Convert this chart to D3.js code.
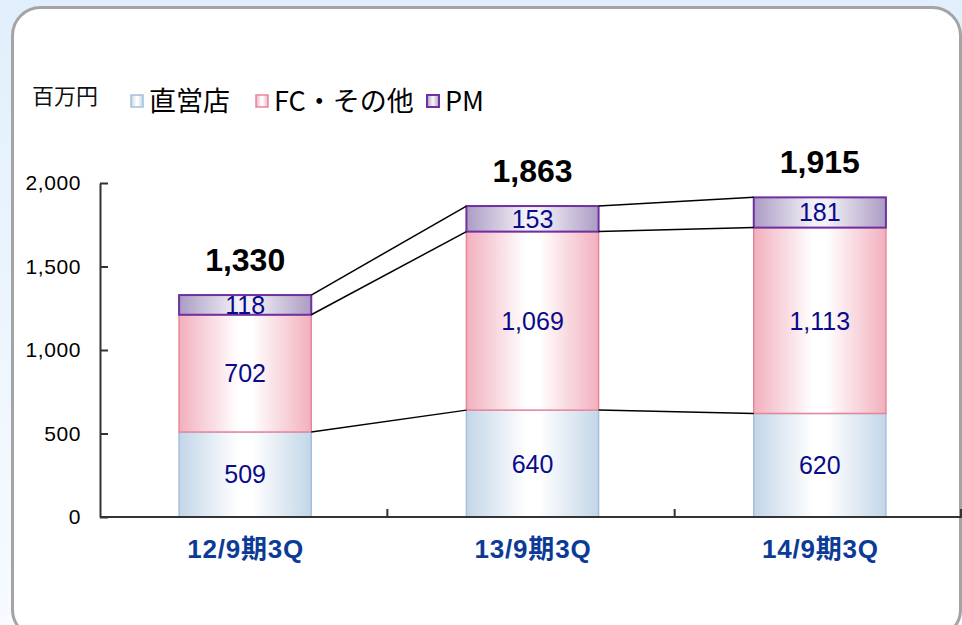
<!DOCTYPE html>
<html>
<head>
<meta charset="utf-8">
<script src="https://cdn.jsdelivr.net/npm/d3@7"></script>
<style>
  html, body { margin: 0; padding: 0; background: #fff; }
  svg { display: block; }
</style>
</head>
<body>
<svg id="chart" width="962" height="625"></svg>
<script>
// ---- data ----
const categories = ["12/9期3Q", "13/9期3Q", "14/9期3Q"];
const seriesNames = ["直営店", "FC・その他", "PM"];
const directStores = [509, 640, 620];
const fcOther = [702, 1069, 1113];
const pm = [118, 153, 181];
const totals = [1330, 1863, 1915];
const yTicks = [0, 500, 1000, 1500, 2000];
const unitLabel = "百万円";

// ---- styles ----
const seriesStyle = [
  { edge: "#c3d6e8", mid: "#ffffff", stroke: "#a3c0da", sw: 1.5 },
  { edge: "#f2b0be", mid: "#ffffff", stroke: "#e8869b", sw: 1.5 },
  { edge: "#ab9cc4", mid: "#f3f1f7", stroke: "#7030a0", sw: 2 }
];

const svg = d3.select("#chart");
const W = 962, H = 625;

// background
const defs = svg.append("defs");
const bg = defs.append("linearGradient").attr("id", "bg").attr("x1", 0).attr("y1", 0).attr("x2", 0).attr("y2", 1);
bg.append("stop").attr("offset", 0).attr("stop-color", "#e1effc");
bg.append("stop").attr("offset", 1).attr("stop-color", "#f7fbff");
svg.append("rect").attr("width", W).attr("height", H).attr("fill", "url(#bg)");
svg.append("rect").attr("x", 12.5).attr("y", 7.5).attr("width", 948).attr("height", 630)
  .attr("rx", 28).attr("ry", 28).attr("fill", "#ffffff").attr("stroke", "#a4a4a4").attr("stroke-width", 3);

seriesStyle.forEach((s, i) => {
  const g = defs.append("linearGradient").attr("id", "grad" + i)
    .attr("x1", 0).attr("y1", 0).attr("x2", 1).attr("y2", 0);
  g.append("stop").attr("offset", 0).attr("stop-color", s.edge);
  g.append("stop").attr("offset", 0.45).attr("stop-color", s.mid);
  g.append("stop").attr("offset", 0.55).attr("stop-color", s.mid);
  g.append("stop").attr("offset", 1).attr("stop-color", s.edge);
});

// ---- scales ----
const x = d3.scaleBand().domain(categories).range([100, 962]).padding(0);
const y = d3.scaleLinear().domain([0, 2000]).range([517, 183]);
const barW = x.bandwidth() * 0.46;
const cx = c => x(c) + x.bandwidth() / 2 + 1.5;

// stack
const table = categories.map((c, i) => ({ cat: c, s0: directStores[i], s1: fcOther[i], s2: pm[i] }));
const stack = d3.stack().keys(["s0", "s1", "s2"])(table);

// y axis
const yAxis = d3.axisLeft(y).tickValues(yTicks).tickFormat(d3.format(",")).tickSizeInner(-8).tickSizeOuter(0).tickPadding(19);
const gy = svg.append("g").attr("transform", "translate(100,0)").call(yAxis);
gy.select(".domain").attr("stroke", "#333").attr("stroke-width", 2);
gy.selectAll(".tick line").attr("stroke", "#333").attr("stroke-width", 2);
gy.selectAll(".tick text").attr("font-family", "'Liberation Sans', Arial, sans-serif")
  .attr("font-size", 21).attr("fill", "#000").attr("letter-spacing", "0.6px");

// bars
stack.forEach((layer, li) => {
  const s = seriesStyle[li];
  svg.append("g").selectAll("rect").data(layer).join("rect")
    .attr("x", d => cx(d.data.cat) - barW / 2)
    .attr("y", d => y(d[1]))
    .attr("width", barW)
    .attr("height", d => y(d[0]) - y(d[1]))
    .attr("fill", "url(#grad" + li + ")")
    .attr("stroke", s.stroke).attr("stroke-width", s.sw);
});

// connectors
const conn = svg.append("g");
stack.forEach(layer => {
  for (let i = 0; i < layer.length - 1; i++) {
    const a = layer[i], b = layer[i + 1];
    conn.append("line")
      .attr("x1", cx(a.data.cat) + barW / 2).attr("y1", y(a[1]))
      .attr("x2", cx(b.data.cat) - barW / 2).attr("y2", y(b[1]))
      .attr("stroke", "#000").attr("stroke-width", 1.5);
  }
});

// segment labels
stack.forEach(layer => {
  svg.append("g").selectAll("text").data(layer).join("text")
    .attr("x", d => cx(d.data.cat))
    .attr("y", d => (y(d[0]) + y(d[1])) / 2)
    .attr("dy", "0.36em")
    .attr("text-anchor", "middle")
    .attr("font-family", "'Liberation Sans', Arial, sans-serif")
    .attr("font-size", 25)
    .attr("fill", "#0a0a8a")
    .text(d => d3.format(",")(d[1] - d[0]));
});

// totals
svg.append("g").selectAll("text").data(categories).join("text")
  .attr("x", c => cx(c))
  .attr("y", (c, i) => y(totals[i]) - 24)
  .attr("text-anchor", "middle")
  .attr("font-family", "'Liberation Sans', Arial, sans-serif")
  .attr("font-weight", "bold")
  .attr("font-size", 32)
  .attr("fill", "#000")
  .text((c, i) => d3.format(",")(totals[i]));

// x axis
const gx = svg.append("g");
gx.append("line").attr("x1", 100).attr("x2", 962).attr("y1", y(0)).attr("y2", y(0))
  .attr("stroke", "#333").attr("stroke-width", 2);
const bounds = categories.map(c => x(c) + x.bandwidth());
gx.selectAll("line.t").data(bounds).join("line").attr("class", "t")
  .attr("x1", d => Math.min(d, 961)).attr("x2", d => Math.min(d, 961))
  .attr("y1", y(0)).attr("y2", y(0) - 8)
  .attr("stroke", "#333").attr("stroke-width", 2);
gx.selectAll("text").data(categories).join("text")
  .attr("x", c => x(c) + x.bandwidth() / 2 + 2)
  .attr("y", 558)
  .attr("text-anchor", "middle")
  .attr("font-family", "'Liberation Sans', 'Noto Sans CJK JP', sans-serif")
  .attr("font-weight", "bold")
  .attr("font-size", 26)
  .attr("letter-spacing", "0.8px")
  .attr("fill", "#0b3b97")
  .text(c => c);

// unit label
svg.append("text").attr("x", 32).attr("y", 104)
  .attr("font-family", "'Noto Sans CJK JP', sans-serif").attr("font-size", 22).attr("fill", "#111")
  .text(unitLabel);

// legend
const legendX = [131, 256, 427];
const lg = svg.append("g");
seriesNames.forEach((n, i) => {
  const s = seriesStyle[i];
  lg.append("rect").attr("x", legendX[i]).attr("y", 95).attr("width", 12).attr("height", 12)
    .attr("fill", "url(#grad" + i + ")").attr("stroke", s.stroke).attr("stroke-width", s.sw);
  lg.append("text").attr("x", legendX[i] + 18).attr("y", 111)
    .attr("font-family", "'Noto Sans CJK JP', sans-serif").attr("font-size", 27).attr("fill", "#000")
    .text(n);
});
</script>
</body>
</html>
